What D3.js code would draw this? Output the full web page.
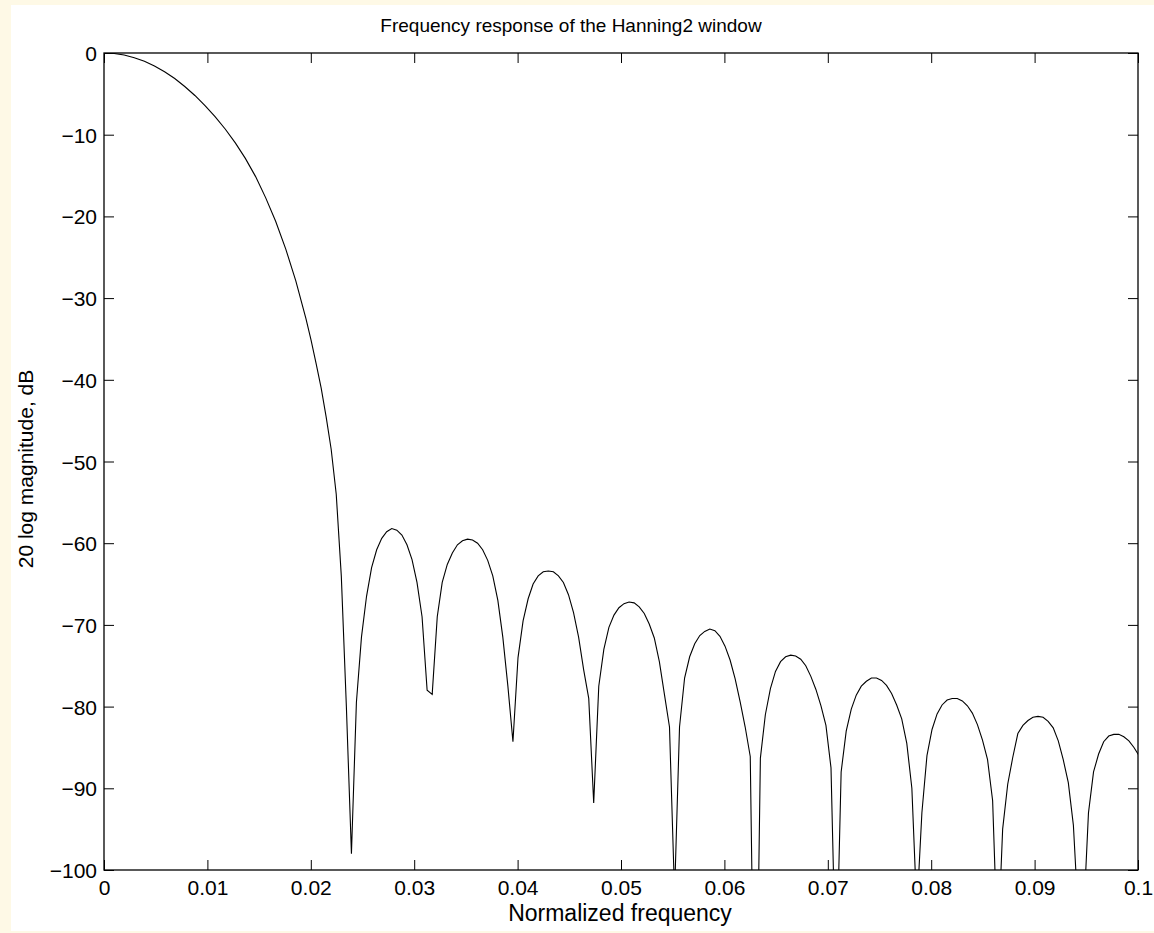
<!DOCTYPE html>
<html>
<head>
<meta charset="utf-8">
<script src="https://cdn.jsdelivr.net/npm/d3@7"></script>
<style>
  html, body { margin: 0; padding: 0; background: #fef9e6; }
  svg { display: block; }
  text { font-family: "Liberation Sans", Arial, Helvetica, sans-serif; fill: #000; }
</style>
</head>
<body>
<svg id="chart" width="1154" height="933"></svg>
<script>
// Spectrum samples (normalized frequency, 20 log magnitude in dB)
const frequency = [
  0, 0.00098, 0.00195, 0.00293, 0.00391, 0.00488, 0.00586, 0.00684, 0.00781, 0.00879,
  0.00977, 0.01074, 0.01172, 0.0127, 0.01367, 0.01465, 0.01563, 0.0166, 0.01758, 0.01855,
  0.01953, 0.02002, 0.02051, 0.021, 0.02148, 0.02197, 0.02246, 0.02295, 0.02344, 0.02393,
  0.02441, 0.0249, 0.02539, 0.02588, 0.02637, 0.02686, 0.02734, 0.02783, 0.02832, 0.02881,
  0.0293, 0.02979, 0.03027, 0.03076, 0.03125,
  0.03174, 0.03223, 0.03271, 0.0332, 0.03369, 0.03418, 0.03467, 0.03516, 0.03564, 0.03613,
  0.03662, 0.03711, 0.0376, 0.03809, 0.03857, 0.03906, 0.03955,
  0.04004, 0.04053, 0.04102, 0.0415, 0.04199, 0.04248, 0.04297, 0.04346, 0.04395, 0.04443,
  0.04492, 0.04541, 0.0459, 0.04639, 0.04688, 0.04736,
  0.04785, 0.04834, 0.04883, 0.04932, 0.0498, 0.05029, 0.05078, 0.05127, 0.05176, 0.05225,
  0.05273, 0.05322, 0.05371, 0.0542, 0.05469, 0.05518,
  0.05566, 0.05615, 0.05664, 0.05713, 0.05762, 0.0581, 0.05859, 0.05908, 0.05957, 0.06006,
  0.06055, 0.06104, 0.06152, 0.06201, 0.0625, 0.06299,
  0.06348, 0.06396, 0.06445, 0.06494, 0.06543, 0.06592, 0.06641, 0.06689, 0.06738, 0.06787,
  0.06836, 0.06885, 0.06934, 0.06982, 0.07031, 0.0708,
  0.07129, 0.07178, 0.07227, 0.07275, 0.07324, 0.07373, 0.07422, 0.07471, 0.0752, 0.07568,
  0.07617, 0.07666, 0.07715, 0.07764, 0.07813, 0.07861,
  0.0791, 0.07959, 0.08008, 0.08057, 0.08105, 0.08154, 0.08203, 0.08252, 0.08301, 0.0835,
  0.08398, 0.08447, 0.08496, 0.08545, 0.08594, 0.08643,
  0.08691, 0.0874, 0.08789, 0.08838, 0.08887, 0.08936, 0.08984, 0.09033, 0.09082, 0.09131,
  0.0918, 0.09229, 0.09277, 0.09326, 0.09375, 0.09424, 0.09473,
  0.09521, 0.0957, 0.09619, 0.09668, 0.09717, 0.09766, 0.09814, 0.09863, 0.09912, 0.09961, 0.1001
];

const magnitudeDb = [
  // main lobe
  0, -0.06, -0.25, -0.57, -1.01, -1.58, -2.29, -3.12, -4.1, -5.2,
  -6.45, -7.8, -9.3, -11.0, -12.9, -15.1, -17.7, -20.6, -24.0, -27.9,
  -32.5, -35.1, -38.0, -41.0, -44.5, -48.5, -54.0, -64.0, -80.0, -98.0,
  // first sidelobe
  -79.5, -71.5, -66.5, -63.0, -60.8, -59.4, -58.6, -58.2, -58.4, -59.0,
  -60.2, -62.0, -64.8, -69.0, -78.0,
  // second sidelobe
  -78.5, -69.0, -64.8, -62.6, -61.2, -60.2, -59.7, -59.5, -59.6, -60.0,
  -60.8, -62.1, -64.0, -67.0, -71.5, -77.5, -84.3,
  // third sidelobe
  -74.0, -69.5, -66.8, -65.0, -64.0, -63.5, -63.4, -63.5, -64.0, -64.8,
  -66.3, -68.5, -71.5, -75.5, -79.0, -91.8,
  // fourth sidelobe
  -77.5, -73.0, -70.3, -68.8, -67.9, -67.4, -67.2, -67.3, -67.8, -68.6,
  -69.9, -71.6, -74.5, -78.5, -82.5, -103.0,
  // fifth sidelobe
  -82.5, -76.5, -73.9, -72.3, -71.3, -70.8, -70.5, -70.7, -71.4, -72.6,
  -74.3, -76.6, -79.4, -82.5, -86.1, -130.0,
  // sixth sidelobe
  -86.3, -81.0, -77.8, -75.7, -74.5, -73.9, -73.7, -73.8, -74.2, -75.0,
  -76.3, -77.9, -79.9, -82.3, -87.5, -114.0,
  // seventh sidelobe
  -88.0, -83.0, -80.3, -78.6, -77.5, -76.9, -76.5, -76.5, -76.8, -77.4,
  -78.4, -79.8, -81.5, -84.5, -90.0, -105.0,
  // eighth sidelobe
  -93.0, -86.0, -82.8, -80.9, -79.8, -79.2, -79.0, -79.0, -79.3, -79.9,
  -80.8, -82.2, -84.1, -86.5, -91.5, -110.0,
  // ninth sidelobe
  -95.0, -89.5, -86.2, -83.3, -82.3, -81.7, -81.3, -81.2, -81.3, -81.8,
  -82.6, -84.2, -86.5, -89.3, -94.5, -106.0, -106.0,
  // tenth sidelobe
  -93.0, -88.0, -85.8, -84.3, -83.6, -83.4, -83.4, -83.7, -84.2, -85.0, -86.0
];

const xTicks = [0, 0.01, 0.02, 0.03, 0.04, 0.05, 0.06, 0.07, 0.08, 0.09, 0.1];
const xTickLabels = ["0", "0.01", "0.02", "0.03", "0.04", "0.05", "0.06", "0.07", "0.08", "0.09", "0.1"];
const yTicks = [0, -10, -20, -30, -40, -50, -60, -70, -80, -90, -100];

const titleText = "Frequency response of the Hanning2 window";
const xLabelText = "Normalized frequency";
const yLabelText = "20 log magnitude, dB";

// Layout
const W = 1154, H = 933;
const plot = { left: 104, top: 53, right: 1138, bottom: 870 };
const tickLen = 10;
const tickFont = 21;

const svg = d3.select("#chart");

// figure area
svg.append("rect")
  .attr("x", 11).attr("y", 5)
  .attr("width", W - 11).attr("height", 926)
  .attr("fill", "#ffffff");

const x = d3.scaleLinear().domain([0, 0.1]).range([plot.left, plot.right]);
const y = d3.scaleLinear().domain([-100, 0]).range([plot.bottom, plot.top]);

// clip for the trace
svg.append("defs").append("clipPath").attr("id", "plotClip")
  .append("rect")
  .attr("x", plot.left).attr("y", plot.top)
  .attr("width", plot.right - plot.left).attr("height", plot.bottom - plot.top);

// trace
const points = frequency.map((f, i) => [f, magnitudeDb[i]]);
const line = d3.line().x(d => x(d[0])).y(d => y(d[1]));
svg.append("path")
  .datum(points)
  .attr("clip-path", "url(#plotClip)")
  .attr("fill", "none")
  .attr("stroke", "#000")
  .attr("stroke-width", 1.1)
  .attr("stroke-linejoin", "miter")
  .attr("d", line);

// axes with inward ticks on all four sides
const fmtMinus = s => s.replace("-", "\u2212");

const axBottom = svg.append("g").attr("transform", `translate(0,${plot.bottom})`)
  .call(d3.axisBottom(x).tickValues(xTicks).tickSize(-tickLen).tickSizeOuter(0)
    .tickFormat((d, i) => xTickLabels[i]));
const axTop = svg.append("g").attr("transform", `translate(0,${plot.top})`)
  .call(d3.axisTop(x).tickValues(xTicks).tickSize(-tickLen).tickSizeOuter(0).tickFormat(""));
const axLeft = svg.append("g").attr("transform", `translate(${plot.left},0)`)
  .call(d3.axisLeft(y).tickValues(yTicks).tickSize(-tickLen).tickSizeOuter(0)
    .tickFormat(d => fmtMinus(String(d))));
const axRight = svg.append("g").attr("transform", `translate(${plot.right},0)`)
  .call(d3.axisRight(y).tickValues(yTicks).tickSize(-tickLen).tickSizeOuter(0).tickFormat(""));

[axBottom, axTop, axLeft, axRight].forEach(g => {
  g.select(".domain").remove();
  g.selectAll(".tick line").attr("stroke", "#000").attr("stroke-width", 1);
  g.selectAll("text").attr("font-size", tickFont).attr("font-family", null).attr("fill", "#000");
});

// tick label placement
axBottom.selectAll(".tick text").attr("dy", null)
  .attr("y", 895 - plot.bottom);
axLeft.selectAll(".tick text")
  .attr("x", 97 - plot.left).attr("dy", "0.36em");

// axes box
svg.append("rect")
  .attr("x", plot.left).attr("y", plot.top)
  .attr("width", plot.right - plot.left).attr("height", plot.bottom - plot.top)
  .attr("fill", "none").attr("stroke", "#000").attr("stroke-width", 1.3);

// titles
svg.append("text")
  .attr("x", 571).attr("y", 32)
  .attr("text-anchor", "middle").attr("font-size", 19)
  .text(titleText);

svg.append("text")
  .attr("x", 620).attr("y", 921)
  .attr("text-anchor", "middle").attr("font-size", 23)
  .text(xLabelText);

svg.append("text")
  .attr("transform", "translate(33,469) rotate(-90)")
  .attr("text-anchor", "middle").attr("font-size", 21)
  .text(yLabelText);
</script>
</body>
</html>
